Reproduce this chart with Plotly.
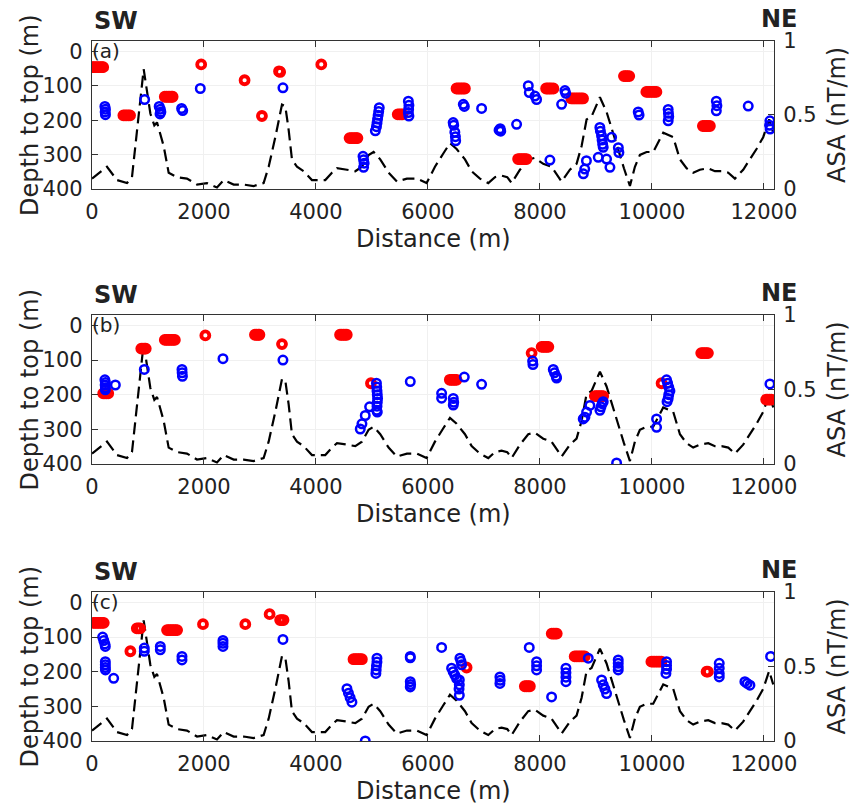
import plotly.graph_objects as go

# ---------------- data ----------------
asa_x = [0, 268, 446, 625, 714, 833, 923, 1042, 1113, 1161, 1280, 1369, 1518, 1696, 1875, 2053,
         2232, 2351, 2530, 2708, 2887, 3065, 3155, 3274, 3393, 3452, 3512, 3571, 3661, 3780, 3928,
         4047, 4166, 4285, 4375, 4553, 4702, 4821, 4940, 5029, 5148, 5297, 5446, 5625, 5803, 5976,
         6125, 6274, 6393, 6512, 6661, 6780, 6928, 7077, 7196, 7315, 7416, 7494, 7643, 7791, 7910,
         8059, 8208, 8387, 8535, 8654, 8744, 8833, 8922, 9071, 9190, 9280, 9398, 9500, 9607, 9696,
         9785, 9904, 10023, 10202, 10380, 10500, 10618, 10737, 10856, 11006, 11125, 11244, 11363,
         11482, 11630, 11750, 11868, 11987, 12094, 12166]
asa_val = [0.07, 0.15, 0.06, 0.04, 0.08, 0.49, 0.81, 0.51, 0.43, 0.45, 0.29, 0.11, 0.08, 0.07, 0.03, 0.04,
           0.01, 0.06, 0.03, 0.03, 0.02, 0.04, 0.15, 0.35, 0.57, 0.56, 0.40, 0.20, 0.15, 0.12, 0.06,
           0.06, 0.06, 0.11, 0.14, 0.13, 0.12, 0.15, 0.23, 0.25, 0.20, 0.11, 0.05, 0.07, 0.07, 0.04,
           0.15, 0.24, 0.31, 0.27, 0.20, 0.12, 0.07, 0.04, 0.08, 0.09, 0.08, 0.04, 0.13, 0.20, 0.21,
           0.17, 0.15, 0.05, 0.13, 0.17, 0.29, 0.47, 0.49, 0.62, 0.52, 0.41, 0.26, 0.14, 0.02, 0.15,
           0.23, 0.25, 0.25, 0.38, 0.35, 0.20, 0.14, 0.11, 0.13, 0.14, 0.12, 0.12, 0.11,
           0.07, 0.13, 0.20, 0.27, 0.35, 0.47, 0.38]

# panel (a)
red_a_x = [0, 30, 60, 90, 120, 150, 180, 200,
           560, 590, 620, 650, 680,
           1300, 1330, 1360, 1390, 1420, 1440,
           1950, 2725, 3035, 3340, 3360, 4095,
           4600, 4630, 4660, 4690, 4720, 4740,
           5460, 5490, 5520, 5545,
           6510, 6540, 6570, 6600, 6630, 6660,
           7610, 7640, 7670, 7700, 7730, 7760,
           8110, 8140, 8170, 8200, 8240,
           8560, 8590, 8620, 8650, 8680, 8710, 8740, 8770,
           9500, 9530, 9560, 9595,
           9900, 9930, 9960, 9990, 10020, 10050, 10080,
           10910, 10940, 10970, 11000, 11035]
red_a_depth = [46, 46, 46, 46, 46, 46, 46, 46,
               186, 186, 186, 186, 186,
               132, 132, 132, 132, 132, 132,
               38, 84, 188, 58, 60, 38,
               252, 252, 252, 252, 252, 252,
               183, 183, 183, 183,
               108, 108, 108, 108, 108, 108,
               313, 313, 313, 313, 313, 313,
               108, 108, 108, 108, 108,
               137, 137, 137, 137, 137, 137, 137, 137,
               72, 72, 72, 72,
               118, 118, 118, 118, 118, 118, 118,
               217, 217, 217, 217, 217]
blue_a_x = [230, 240, 235, 240, 940, 1200, 1220, 1230, 1215, 1600, 1620, 1934, 3410,
            4840, 4850, 4860, 4850, 5130, 5120, 5110, 5100, 5090, 5080, 5060,
            5650, 5660, 5655, 5650, 5660,
            6450, 6460, 6480, 6490, 6495, 6631, 6650, 6958, 7270, 7300, 7290, 7583,
            7792, 7810, 7910, 7940, 8178, 8446, 8460, 8387,
            8775, 8800, 8830, 9070, 9080, 9100, 9110, 9120, 9130,
            9041, 9190, 9250, 9280, 9400, 9410, 9755, 9770,
            10290, 10295, 10300, 10290, 11150, 11160, 11150, 11720, 12107, 12100, 12110]
blue_a_depth = [160, 168, 176, 184, 140, 160, 168, 176, 182, 166, 172, 108, 106,
                305, 315, 325, 337, 164, 175, 186, 197, 208, 219, 231,
                145, 157, 168, 178, 188,
                207, 215, 235, 248, 260, 154, 160, 166, 229, 232, 225, 212,
                100, 120, 130, 140, 316, 114, 122, 154,
                356, 342, 318, 221, 232, 245, 258, 270, 279,
                308, 313, 337, 250, 280, 294, 176, 185,
                169, 180, 190, 202, 145, 158, 173, 159, 202, 215, 226]

# panel (b)
red_b_x = [200, 230, 260, 290,
           880, 910, 940, 960,
           1300, 1330, 1360, 1390, 1420, 1450, 1480,
           2024,
           2910, 2940, 2970, 2990,
           3393,
           4430, 4460, 4490, 4520, 4550,
           4982,
           6390, 6420, 6450, 6480, 6510,
           7851,
           8030, 8060, 8090, 8120, 8150,
           8980, 9010, 9040, 9070, 9100, 9130,
           10172,
           10880, 10910, 10940, 10970, 11000,
           12040, 12070, 12100, 12130]
red_b_depth = [196, 196, 196, 196,
               67, 67, 67, 67,
               42, 42, 42, 42, 42, 42, 42,
               29,
               27, 27, 27, 27,
               54,
               27, 27, 27, 27, 27,
               167,
               157, 157, 157, 157, 157,
               80,
               62, 62, 62, 62, 62,
               204, 204, 204, 204, 204, 204,
               167,
               80, 80, 80, 80, 80,
               214, 214, 214, 214]
blue_b_x = [230, 240, 235, 240, 238, 417, 934, 1607, 1610, 1615, 2339, 3410,
            4791, 4821, 4880, 4958,
            5080, 5085, 5090, 5095, 5100, 5095, 5090, 5085, 5095, 5684,
            6244, 6244, 6452, 6460, 6452, 6649, 6958, 7869, 7875,
            8238, 8260, 8290, 8297, 8773, 8803, 8833, 8892,
            9071, 9090, 9110, 9130, 9369, 10083, 10083,
            10261, 10280, 10300, 10321, 10300, 10290, 10270, 12107]
blue_b_depth = [157, 165, 172, 180, 186, 172, 127, 127, 137, 147, 96, 100,
                299, 284, 260, 235,
                167, 178, 189, 200, 211, 222, 233, 245, 250, 162,
                196, 210, 211, 222, 230, 149, 170, 103, 113,
                127, 137, 147, 152, 270, 265, 250, 231,
                245, 235, 226, 220, 397, 294, 270,
                157, 167, 178, 189, 200, 211, 220, 169]

# panel (c)
red_c_x = [30, 60, 90, 120, 150, 180, 210,
           685,
           800, 830, 860,
           1340, 1370, 1400, 1430, 1460, 1490, 1520,
           1982, 2738, 3172,
           3360, 3390, 3420,
           4670, 4700, 4730, 4760, 4790, 4820,
           6690,
           7730, 7760, 7790, 7820,
           8210, 8240, 8270, 8300,
           8620, 8650, 8680, 8710, 8740, 8770, 8800,
           9990, 10020, 10050, 10080, 10110, 10140, 10170,
           10976, 11000]
red_c_depth = [59, 59, 59, 59, 59, 59, 59,
               141,
               75, 75, 75,
               80, 80, 80, 80, 80, 80, 80,
               63, 63, 34,
               51, 51, 51,
               164, 164, 164, 164, 164, 164,
               188,
               242, 242, 242, 242,
               90, 90, 90, 90,
               156, 156, 156, 156, 156, 156, 156,
               171, 171, 171, 171, 171, 171, 171,
               200, 200]
blue_c_x = [190, 210, 230, 238, 238, 238, 238, 240, 387, 934, 934, 1220, 1220, 1607, 1607,
            2339, 2339, 2339, 3410, 4553, 4580, 4610, 4642, 4880,
            5089, 5089, 5080, 5075, 5070, 5684, 5684, 5684, 5690, 5684,
            6244, 6422, 6450, 6480, 6512, 6571, 6590, 6601, 6560, 6560, 6555, 6560,
            7285, 7290, 7285, 7809, 7940, 7940, 7940, 8208, 8464, 8464, 8464, 8464,
            8863, 9101, 9130, 9160, 9190, 9398, 9398, 9398, 9398,
            10261, 10261, 10261, 10250, 11202, 11202, 11202, 11202, 11660, 11700, 11750, 12119]
blue_c_depth = [100, 110, 120, 127, 171, 180, 188, 195, 219, 132, 141, 127, 137, 156, 166,
                110, 118, 127, 107, 249, 262, 275, 288, 400,
                161, 172, 183, 195, 205, 156, 160, 229, 237, 244,
                130, 190, 200, 210, 220, 161, 170, 180, 224, 238, 250, 268,
                215, 225, 234, 130, 171, 183, 195, 273, 190, 203, 216, 229,
                161, 224, 238, 250, 263, 166, 176, 186, 195,
                171, 182, 193, 205, 176, 190, 205, 215, 229, 234, 239, 156]

panel_labels = ["(a)", "(b)", "(c)"]
x_ticks = [0, 2000, 4000, 6000, 8000, 10000, 12000]
x_ticktext = ["0", "2000", "4000", "6000", "8000", "10000", "12000"]
depth_ticks = [0, 100, 200, 300, 400]
depth_ticktext = ["0", "100", "200", "300", "400"]
asa_ticks = [0, 0.5, 1]
asa_ticktext = ["0", "0.5", "1"]

panels = [
    (red_a_x, red_a_depth, blue_a_x, blue_a_depth),
    (red_b_x, red_b_depth, blue_b_x, blue_b_depth),
    (red_c_x, red_c_depth, blue_c_x, blue_c_depth),
]

# ---------------- figure ----------------
TXT = "#222222"
AX = "#333333"
FONT = "DejaVu Sans"
domains = [[0.7886, 1.0], [0.3957, 0.6086], [0.0, 0.2129]]

fig = go.Figure()
layout = dict(
    width=852, height=805,
    margin=dict(l=92, r=78, t=41, b=64),
    paper_bgcolor="white", plot_bgcolor="white",
    showlegend=False,
    font=dict(family=FONT, size=21, color=TXT),
)
annotations = []

for i, (rx, rd, bx, bd) in enumerate(panels):
    n = i + 1
    xa = "x" if n == 1 else f"x{n}"
    ya = "y" if n == 1 else f"y{n}"
    yd = f"y{n + 3}"
    xkey = "xaxis" if n == 1 else f"xaxis{n}"
    ykey = "yaxis" if n == 1 else f"yaxis{n}"
    ydkey = f"yaxis{n + 3}"

    fig.add_trace(go.Scatter(x=asa_x, y=asa_val, mode="lines", xaxis=xa, yaxis=ya,
                             line=dict(color="black", width=2.2, dash="12px,6px"),
                             hoverinfo="skip"))
    fig.add_trace(go.Scatter(x=rx, y=rd, mode="markers", xaxis=xa, yaxis=yd,
                             marker=dict(symbol="circle-open", size=8, color="#ff0000",
                                         line=dict(width=3.8, color="#ff0000"))))
    fig.add_trace(go.Scatter(x=bx, y=bd, mode="markers", xaxis=xa, yaxis=yd,
                             marker=dict(symbol="circle-open", size=8.5, color="#0000ff",
                                         line=dict(width=2.5, color="#0000ff"))))

    layout[xkey] = dict(domain=[0, 1], anchor=ya, range=[0, 12180],
                        tickmode="array", tickvals=x_ticks, ticktext=x_ticktext,
                        ticks="inside", ticklen=6, tickcolor=AX,
                        showline=True, linecolor=AX, linewidth=1.2, mirror="ticks",
                        showgrid=True, gridcolor="#f0f0f0", zeroline=False,
                        tickfont=dict(size=21, family=FONT, color=TXT), ticklabelstandoff=4)
    layout[ykey] = dict(domain=domains[i], anchor=xa, side="right", range=[0, 1],
                        tickmode="array", tickvals=asa_ticks, ticktext=asa_ticktext,
                        ticks="inside", ticklen=6, tickcolor=AX,
                        showline=True, linecolor=AX, linewidth=1.2,
                        showgrid=False, zeroline=False,
                        tickfont=dict(size=21, family=FONT, color=TXT), ticklabelstandoff=4)
    layout[ydkey] = dict(overlaying=ya, anchor=xa, side="left", range=[400, -30],
                         tickmode="array", tickvals=depth_ticks, ticktext=depth_ticktext,
                         ticks="inside", ticklen=6, tickcolor=AX,
                         showline=True, linecolor=AX, linewidth=1.2,
                         showgrid=True, gridcolor="#f0f0f0", zeroline=False,
                         tickfont=dict(size=21, family=FONT, color=TXT), ticklabelstandoff=4)

    xd = f"{xa} domain"
    ydom = f"{ya} domain"
    annotations += [
        dict(text="<b>SW</b>", xref=xd, yref=ydom, x=0, y=1, xanchor="left", yanchor="middle",
             yshift=20, showarrow=False, font=dict(size=24, family=FONT, color=TXT)),
        dict(text="<b>NE</b>", xref=xd, yref=ydom, x=1, y=1, xanchor="right", yanchor="middle",
             xshift=25, yshift=22, showarrow=False, font=dict(size=24, family=FONT, color=TXT)),
        dict(text=panel_labels[i], xref=xd, yref=yd, x=0, y=0, xanchor="left", yanchor="middle",
             xshift=-2, showarrow=False, font=dict(size=20, family=FONT, color=TXT)),
        dict(text="Distance (m)", xref=xd, yref=ydom, x=0.5, y=0, xanchor="center",
             yanchor="middle", yshift=-50, showarrow=False,
             font=dict(size=24, family=FONT, color=TXT)),
        dict(text="Depth to top (m)", xref=xd, yref=ydom, x=0, y=0.5, xanchor="center",
             yanchor="middle", xshift=-62, textangle=-90, showarrow=False,
             font=dict(size=24, family=FONT, color=TXT)),
        dict(text="ASA (nT/m)", xref=xd, yref=ydom, x=1, y=0.5, xanchor="center",
             yanchor="middle", xshift=63, textangle=-90, showarrow=False,
             font=dict(size=24, family=FONT, color=TXT)),
    ]

layout["annotations"] = annotations
fig.update_layout(**layout)
fig.write_html("out.html")
